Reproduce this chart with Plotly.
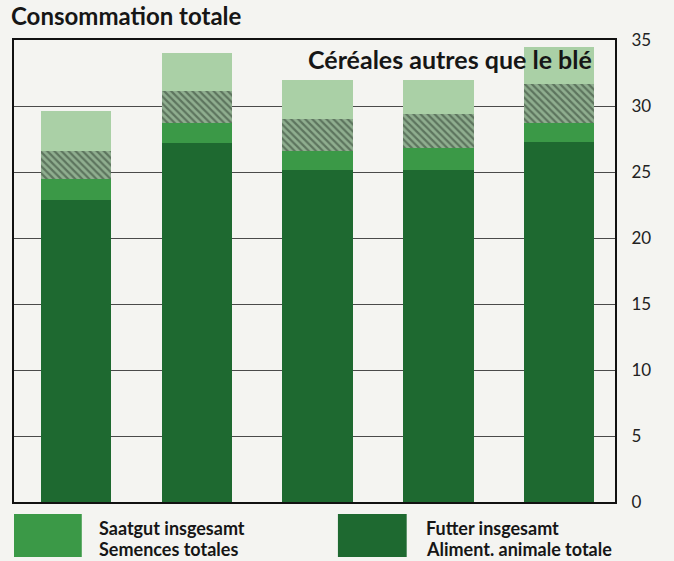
import plotly.graph_objects as go

categories = ["1", "2", "3", "4", "5"]
futter = [22.9, 27.2, 25.15, 25.15, 27.3]
saatgut = [1.6, 1.5, 1.45, 1.65, 1.4]
industrie = [2.1, 2.4, 2.4, 2.6, 3.0]
nahrung = [3.0, 2.9, 3.0, 2.6, 2.8]
y_ticks = [0, 5, 10, 15, 20, 25, 30, 35]

BG = "#f4f4f1"
C_FUTTER = "#1e6930"
C_SAAT = "#3b9947"
C_HATCH_BG = "#8fae8f"
C_HATCH_FG = "#2b3b2d"
C_TOP = "#aad0a6"

W = 0.58
fig = go.Figure()
fig.add_trace(go.Bar(x=categories, y=futter, width=W, marker=dict(color=C_FUTTER, line=dict(width=0)), name="Futter insgesamt"))
fig.add_trace(go.Bar(x=categories, y=saatgut, width=W, marker=dict(color=C_SAAT, line=dict(width=0)), name="Saatgut insgesamt"))
fig.add_trace(go.Bar(x=categories, y=industrie, width=W,
                     marker=dict(color=C_HATCH_BG, line=dict(width=0),
                                 pattern=dict(shape="\\", fgcolor=C_HATCH_FG, bgcolor=C_HATCH_BG, size=5, solidity=0.45)),
                     name="other"))
fig.add_trace(go.Bar(x=categories, y=nahrung, width=W, marker=dict(color=C_TOP, line=dict(width=0)), name="top"))

L, R, T, B = 12, 615, 40, 502
PW, PH = R - L, B - T

def px(x):
    return (x - L) / PW

def py(y):
    return (B - y) / PH

shapes = [
    dict(type="rect", xref="paper", yref="paper", x0=px(12), x1=px(80), y0=py(514), y1=py(557),
         fillcolor=C_SAAT, line=dict(width=0)),
    dict(type="rect", xref="paper", yref="paper", x0=px(337), x1=px(406), y0=py(514), y1=py(557),
         fillcolor=C_FUTTER, line=dict(width=0)),
]

TXT = "#161616"
FONT = "Lato"

def label(text, x, y, size, anchor="left"):
    return dict(text="<b>%s</b>" % text, xref="paper", yref="paper", x=px(x), y=py(y),
                xanchor=anchor, yanchor="middle", showarrow=False,
                font=dict(size=size, color=TXT, family=FONT))

annotations = [
    label("Consommation totale", 7, 16, 24),
    label("Céréales autres que le blé", 594, 59, 25, anchor="right"),
    label("Saatgut insgesamt", 95, 528, 18),
    label("Semences totales", 95, 549, 18),
    label("Futter insgesamt", 423, 528, 18),
    label("Aliment. animale totale", 423, 549, 18),
]

fig.update_layout(
    width=674, height=561,
    margin=dict(l=L, r=674 - R, t=T, b=561 - B),
    barmode="stack",
    paper_bgcolor=BG, plot_bgcolor=BG,
    showlegend=False,
    shapes=shapes,
    annotations=annotations,
    xaxis=dict(range=[-0.51, 4.46], showticklabels=False, showgrid=False, zeroline=False,
               showline=True, mirror=True, linecolor="#111", linewidth=2, ticks=""),
    yaxis=dict(range=[0, 35], side="right", tickvals=y_ticks, ticktext=[str(v) for v in y_ticks],
               showgrid=True, gridcolor="#4a4a4a", gridwidth=1.2, zeroline=False,
               showline=True, mirror=True, linecolor="#111", linewidth=2, ticks="",
               ticklabelstandoff=11,
               tickfont=dict(size=17, color="#222", family="Lato")),
)

fig.write_html(
    "out.html",
    config={"displayModeBar": False},
    post_script="document.body.style.margin='0';document.body.style.padding='0';"
                "document.body.style.overflow='hidden';document.body.style.background='#f4f4f1';",
)
